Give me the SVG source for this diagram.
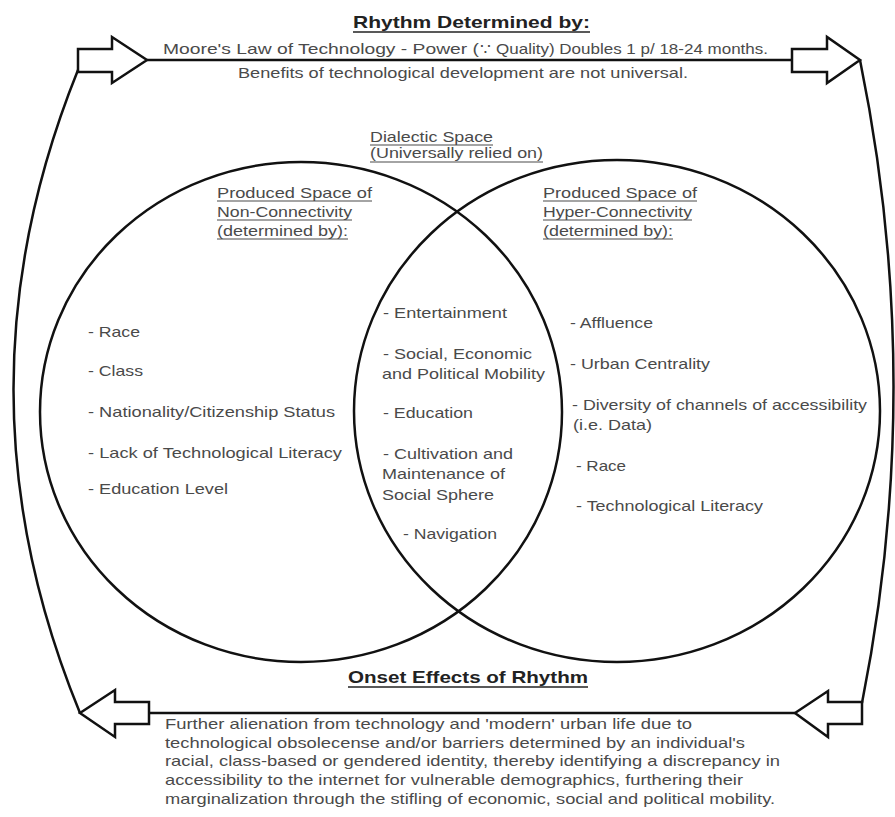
<svg xmlns="http://www.w3.org/2000/svg" width="895" height="817" viewBox="0 0 895 817">
<style>
.t{font-family:"Liberation Sans",Arial,sans-serif;font-size:15px;fill:#4a4a4a}
.b{font-family:"Liberation Sans",Arial,sans-serif;font-size:17px;font-weight:bold;fill:#222}
.u{stroke:#4a4a4a;stroke-width:1.1}
.ub{stroke:#222;stroke-width:1.6}
.shape{fill:none;stroke:#111;stroke-width:2.5}
.arrow{fill:#fff;stroke:#111;stroke-width:2.5;stroke-linejoin:miter}
</style>
<rect width="895" height="817" fill="#fff"/>

<g id="connectors">
  <line class="shape" x1="147" y1="60" x2="792" y2="60"/>
  <line class="shape" x1="149" y1="713" x2="795" y2="713"/>
  <path class="shape" d="M78,70 Q-52,392 80,713"/>
  <path class="shape" d="M860,60 Q926,382 862,703"/>
  <polygon class="arrow" points="78,49 112,49 112,37 147,60 112,83 112,72 78,72"/>
  <polygon class="arrow" points="792,49 827,49 827,37 860,60 827,83 827,72 792,72"/>
  <polygon class="arrow" points="862,702 828,702 828,691 795,713 828,737 828,724 862,724"/>
  <polygon class="arrow" points="149,702 115,702 115,690 80,713 115,737 115,724 149,724"/>
</g>

<g id="circle-left">
  <ellipse class="shape" cx="301" cy="412" rx="261" ry="250"/>
</g>
<g id="circle-right">
  <ellipse class="shape" cx="617" cy="411" rx="263" ry="251"/>
</g>

<g id="rhythm-determined">
  <text class="b" x="353" y="28" textLength="237" lengthAdjust="spacingAndGlyphs">Rhythm Determined by:</text>
  <line class="ub" x1="353" y1="32" x2="590" y2="32"/>
  <text class="t" y="54"><tspan x="163" textLength="316" lengthAdjust="spacingAndGlyphs">Moore's Law of Technology - Power (</tspan><tspan x="480" textLength="288" lengthAdjust="spacingAndGlyphs">∵ Quality) Doubles 1 p/ 18-24 months.</tspan></text>
  <text class="t" x="238" y="78" textLength="450" lengthAdjust="spacingAndGlyphs">Benefits of technological development are not universal.</text>
</g>

<g id="dialectic-space">
  <text class="t" x="370" y="142" textLength="123" lengthAdjust="spacingAndGlyphs">Dialectic Space</text>
  <line class="u" x1="370" y1="145" x2="493" y2="145"/>
  <text class="t" x="370" y="158" textLength="173" lengthAdjust="spacingAndGlyphs">(Universally relied on)</text>
  <line class="u" x1="370" y1="162" x2="543" y2="162"/>
  <text class="t" x="383" y="318" textLength="124" lengthAdjust="spacingAndGlyphs">- Entertainment</text>
  <text class="t" x="383" y="359" textLength="149" lengthAdjust="spacingAndGlyphs">- Social, Economic</text>
  <text class="t" x="382" y="379" textLength="163" lengthAdjust="spacingAndGlyphs">and Political Mobility</text>
  <text class="t" x="383" y="418" textLength="90" lengthAdjust="spacingAndGlyphs">- Education</text>
  <text class="t" x="383" y="459" textLength="130" lengthAdjust="spacingAndGlyphs">- Cultivation and</text>
  <text class="t" x="382" y="479" textLength="123" lengthAdjust="spacingAndGlyphs">Maintenance of</text>
  <text class="t" x="382" y="500" textLength="112" lengthAdjust="spacingAndGlyphs">Social Sphere</text>
  <text class="t" x="403" y="539" textLength="94" lengthAdjust="spacingAndGlyphs">- Navigation</text>
</g>

<g id="non-connectivity">
  <text class="t" x="217" y="198" textLength="155" lengthAdjust="spacingAndGlyphs">Produced Space of</text>
  <line class="u" x1="217" y1="201" x2="372" y2="201"/>
  <text class="t" x="217" y="217" textLength="135" lengthAdjust="spacingAndGlyphs">Non-Connectivity</text>
  <line class="u" x1="217" y1="220" x2="352" y2="220"/>
  <text class="t" x="217" y="236" textLength="131" lengthAdjust="spacingAndGlyphs">(determined by):</text>
  <line class="u" x1="217" y1="239" x2="348" y2="239"/>
  <text class="t" x="88" y="337" textLength="52" lengthAdjust="spacingAndGlyphs">- Race</text>
  <text class="t" x="88" y="376" textLength="55" lengthAdjust="spacingAndGlyphs">- Class</text>
  <text class="t" x="88" y="417" textLength="247" lengthAdjust="spacingAndGlyphs">- Nationality/Citizenship Status</text>
  <text class="t" x="88" y="458" textLength="254" lengthAdjust="spacingAndGlyphs">- Lack of Technological Literacy</text>
  <text class="t" x="88" y="494" textLength="140" lengthAdjust="spacingAndGlyphs">- Education Level</text>
</g>

<g id="hyper-connectivity">
  <text class="t" x="543" y="198" textLength="154" lengthAdjust="spacingAndGlyphs">Produced Space of</text>
  <line class="u" x1="543" y1="201" x2="697" y2="201"/>
  <text class="t" x="543" y="217" textLength="149" lengthAdjust="spacingAndGlyphs">Hyper-Connectivity</text>
  <line class="u" x1="543" y1="220" x2="692" y2="220"/>
  <text class="t" x="543" y="236" textLength="130" lengthAdjust="spacingAndGlyphs">(determined by):</text>
  <line class="u" x1="543" y1="239" x2="673" y2="239"/>
  <text class="t" x="570" y="328" textLength="83" lengthAdjust="spacingAndGlyphs">- Affluence</text>
  <text class="t" x="570" y="369" textLength="140" lengthAdjust="spacingAndGlyphs">- Urban Centrality</text>
  <text class="t" x="572" y="410" textLength="295" lengthAdjust="spacingAndGlyphs">- Diversity of channels of accessibility</text>
  <text class="t" x="573" y="430" textLength="79" lengthAdjust="spacingAndGlyphs">(i.e. Data)</text>
  <text class="t" x="576" y="471" textLength="50" lengthAdjust="spacingAndGlyphs">- Race</text>
  <text class="t" x="576" y="511" textLength="187" lengthAdjust="spacingAndGlyphs">- Technological Literacy</text>
</g>

<g id="onset-effects">
  <text class="b" x="348" y="683" textLength="240" lengthAdjust="spacingAndGlyphs">Onset Effects of Rhythm</text>
  <line class="ub" x1="348" y1="687" x2="588" y2="687"/>
  <text class="t" x="165" y="729" textLength="527" lengthAdjust="spacingAndGlyphs">Further alienation from technology and 'modern' urban life due to</text>
  <text class="t" x="165" y="748" textLength="580" lengthAdjust="spacingAndGlyphs">technological obsolecense and/or barriers determined by an individual's</text>
  <text class="t" x="165" y="766" textLength="615" lengthAdjust="spacingAndGlyphs">racial, class-based or gendered identity, thereby identifying a discrepancy in</text>
  <text class="t" x="165" y="785" textLength="578" lengthAdjust="spacingAndGlyphs">accessibility to the internet for vulnerable demographics, furthering their</text>
  <text class="t" x="165" y="804" textLength="610" lengthAdjust="spacingAndGlyphs">marginalization through the stifling of economic, social and political mobility.</text>
</g>
</svg>
